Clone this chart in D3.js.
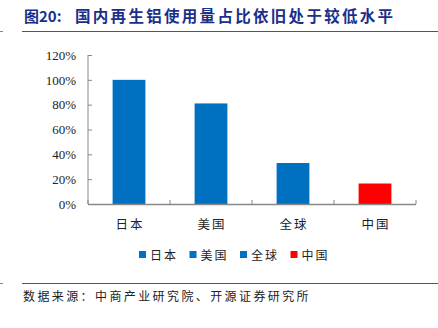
<!DOCTYPE html>
<html>
<head>
<meta charset="utf-8">
<script src="https://cdn.jsdelivr.net/npm/d3@7"></script>
<style>
  html, body { margin: 0; padding: 0; background: #fff; }
  svg { display: block; }
</style>
</head>
<body>
<svg id="chart" width="438" height="328"></svg>
<script>
// Share of recycled aluminium in total aluminium use, by region
const categories = ["日本", "美国", "全球", "中国"];
const shares = [100, 81, 33, 16.5];
const barColors = ["#0070C0", "#0070C0", "#0070C0", "#FF0000"];
const yTicks = [0, 20, 40, 60, 80, 100, 120];

const titleLabel = "图20:";
const titleText = "国内再生铝使用量占比依旧处于较低水平";
const sourceText = "数据来源：中商产业研究院、开源证券研究所";

const cjk = "'Noto Sans CJK SC', sans-serif";
const serif = "'Liberation Serif', 'DejaVu Serif', serif";

const svg = d3.select("#chart");

// Header and footer
svg.append("text")
  .attr("x", 24).attr("y", 22)
  .attr("fill", "#1B2F8A")
  .attr("font-family", cjk)
  .attr("font-weight", "bold")
  .attr("font-size", 15)
  .text(titleLabel);
svg.append("text")
  .attr("x", 75).attr("y", 22)
  .attr("fill", "#1B2F8A")
  .attr("font-family", cjk)
  .attr("font-weight", "bold")
  .attr("font-size", 15.5)
  .attr("letter-spacing", 2.3)
  .text(titleText);

svg.append("line").attr("x1", 22).attr("x2", 438).attr("y1", 31.5).attr("y2", 31.5)
  .attr("stroke", "#555").attr("stroke-width", 1.2);
svg.append("line").attr("x1", 0).attr("x2", 3).attr("y1", 31.5).attr("y2", 31.5)
  .attr("stroke", "#888").attr("stroke-width", 1);

svg.append("line").attr("x1", 22).attr("x2", 438).attr("y1", 283.5).attr("y2", 283.5)
  .attr("stroke", "#555").attr("stroke-width", 1.2);
svg.append("line").attr("x1", 0).attr("x2", 3).attr("y1", 283.5).attr("y2", 283.5)
  .attr("stroke", "#888").attr("stroke-width", 1);

svg.append("text")
  .attr("x", 23).attr("y", 301)
  .attr("fill", "#222")
  .attr("font-family", cjk)
  .attr("font-size", 12)
  .attr("letter-spacing", 2.4)
  .text(sourceText);

// Plot area
const x = d3.scaleBand().domain(categories).range([88, 416]).paddingInner(0.6).paddingOuter(0.3);
const y = d3.scaleLinear().domain([0, 120]).range([204, 55]);

const g = svg.append("g");

g.selectAll("rect.bar")
  .data(categories)
  .join("rect")
  .attr("class", "bar")
  .attr("x", d => x(d))
  .attr("width", x.bandwidth())
  .attr("y", (d, i) => y(shares[i]))
  .attr("height", (d, i) => y(0) - y(shares[i]))
  .attr("fill", (d, i) => barColors[i]);

// Y axis
const yAxis = g.append("g")
  .attr("transform", "translate(88,0)")
  .call(d3.axisLeft(y).tickValues(yTicks).tickSize(-4).tickPadding(12).tickFormat(d => d + "%"));
yAxis.select(".domain").attr("stroke", "#888").attr("d", "M0,55V204");
yAxis.selectAll(".tick line").attr("stroke", "#888").attr("x2", 4);
yAxis.selectAll(".tick text")
  .attr("fill", "#222")
  .attr("font-family", serif)
  .attr("font-size", 13);

// X axis with ticks at band boundaries
const edges = d3.range(categories.length + 1).map(i => 88 + i * (416 - 88) / categories.length);
const xAxisG = g.append("g");
xAxisG.append("line")
  .attr("x1", 88).attr("x2", 416).attr("y1", 204.5).attr("y2", 204.5)
  .attr("stroke", "#888").attr("stroke-width", 1.5);
xAxisG.selectAll("line.edge")
  .data(edges)
  .join("line")
  .attr("class", "edge")
  .attr("x1", d => d).attr("x2", d => d)
  .attr("y1", 200).attr("y2", 204)
  .attr("stroke", "#888");
xAxisG.selectAll("text")
  .data(categories)
  .join("text")
  .attr("x", d => x(d) + x.bandwidth() / 2 + 1)
  .attr("y", 229)
  .attr("text-anchor", "middle")
  .attr("fill", "#222")
  .attr("font-family", cjk)
  .attr("font-size", 12.5)
  .attr("letter-spacing", 2)
  .text(d => d);

// Legend
const legend = svg.append("g").attr("transform", "translate(139,255)");
const items = legend.selectAll("g")
  .data(categories)
  .join("g")
  .attr("transform", (d, i) => `translate(${i * 50.5},0)`);
items.append("rect")
  .attr("x", 0).attr("y", -4).attr("width", 7).attr("height", 7)
  .attr("fill", (d, i) => barColors[i]);
items.append("text")
  .attr("x", 11).attr("y", 4.5)
  .attr("fill", "#222")
  .attr("font-family", cjk)
  .attr("font-size", 12)
  .attr("letter-spacing", 2)
  .text(d => d);
</script>
</body>
</html>
